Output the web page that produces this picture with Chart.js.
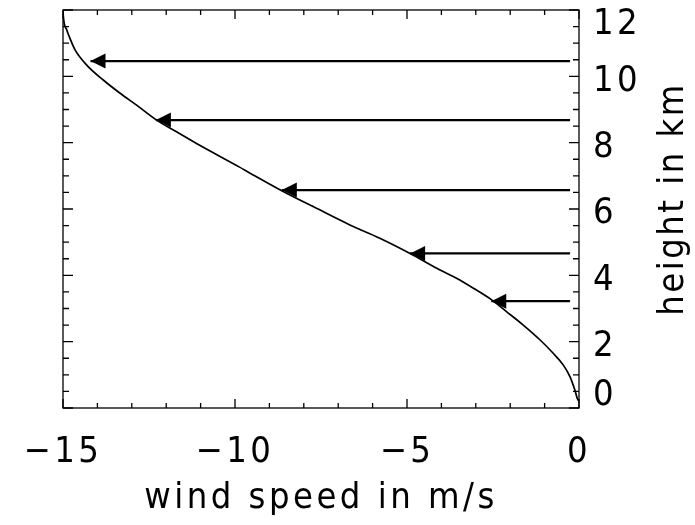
<!DOCTYPE html>
<html><head><meta charset="utf-8">
<script src="https://cdn.jsdelivr.net/npm/chart.js@4.4.1/dist/chart.umd.min.js"></script>
<style>html,body{margin:0;padding:0;background:#fff}canvas{display:block}</style>
</head><body>
<canvas id="c" width="695" height="525"></canvas>
<script>
// ---- data ----
const windSpeed = [-15, -14.99, -14.89, -14.78, -14.65, -14.31, -13.83, -13.34, -12.86, -12.28, -11.70, -11.04, -9.88, -9.56, -8.64, -7.63, -6.66, -5.79, -4.91, -4.04, -3.56, -3.07, -2.54, -2.10, -1.62, -1.13, -0.75, -0.46, -0.26, -0.12, -0.05, 0];
const heightKm  = [12, 11.8, 11.4, 11.1, 10.8, 10.34, 9.89, 9.49, 9.13, 8.68, 8.33, 7.93, 7.27, 7.08, 6.55, 6.02, 5.52, 5.12, 4.66, 4.16, 3.91, 3.61, 3.26, 2.90, 2.50, 2.05, 1.65, 1.30, 0.94, 0.54, 0.29, 0.2];
const arrowHeight   = [10.46, 8.68, 6.57, 4.66, 3.22];
const arrowTipSpeed = [-14.2, -12.3, -8.64, -4.91, -2.55];
const arrowTailSpeed = -0.26;
const xTickValues = [-15, -10, -5, 0];
const yTickValues = [0, 2, 4, 6, 8, 10, 12];
const xTitle = 'wind speed in m/s';
const yTitle = 'height in km';

const FONT = "'DejaVu Sans Condensed', 'Liberation Sans Narrow', 'Liberation Sans', sans-serif";
const FSIZE = 36;

const curve = windSpeed.map((x, i) => ({x, y: heightKm[i]}));
const arrowSets = arrowHeight.map((h, i) => ({
  type: 'line',
  data: [{x: arrowTailSpeed, y: h}, {x: arrowTipSpeed[i], y: h}],
  borderColor: '#000', borderWidth: 2.2, pointRadius: 0, tension: 0,
  isArrow: true
}));

const decor = {
  id: 'decor',
  beforeDraw(chart) {
    const ctx = chart.ctx;
    ctx.save();
    ctx.fillStyle = '#fff';
    ctx.fillRect(0, 0, chart.width, chart.height);
    ctx.restore();
    ctx.letterSpacing = '3.5px';
    const ys = chart.scales.y;
    const items = ys.getLabelItems();
    items.forEach((it, i) => {
      const v = ys.ticks[i].value;
      let off = 5;
      if (v === 12) off = 15;
      if (v === 0) off = -12;
      it.options.translation[1] = ys.getPixelForValue(v) + off;
    });
  },
  afterDraw(chart) {
    const ctx = chart.ctx;
    const a = chart.chartArea;
    const xs = chart.scales.x, ys = chart.scales.y;
    // arrow heads
    ctx.save();
    ctx.fillStyle = '#000';
    chart.data.datasets.forEach(ds => {
      if (!ds.isArrow) return;
      const tip = ds.data[1];
      const px = xs.getPixelForValue(tip.x), py = ys.getPixelForValue(tip.y);
      ctx.beginPath();
      ctx.moveTo(px, py);
      ctx.lineTo(px + 15, py - 7.5);
      ctx.lineTo(px + 15, py + 7.5);
      ctx.closePath();
      ctx.fill();
    });
    ctx.restore();
    // frame & inward ticks
    ctx.save();
    ctx.strokeStyle = '#000';
    ctx.lineWidth = 1.3;
    ctx.strokeRect(a.left, a.top, a.right - a.left, a.bottom - a.top);
    ctx.beginPath();
    for (let v = -15; v <= 0; v += 1) {
      const px = xs.getPixelForValue(v);
      const len = (v % 5 === 0) ? 9 : 5;
      ctx.moveTo(px, a.bottom); ctx.lineTo(px, a.bottom - len);
      ctx.moveTo(px, a.top); ctx.lineTo(px, a.top + len);
    }
    for (let k = 0; k <= 24; k++) {
      const v = k / 2;
      const py = ys.getPixelForValue(v);
      const len = (k % 4 === 0) ? 10 : 6;
      ctx.moveTo(a.left, py); ctx.lineTo(a.left + len, py);
      ctx.moveTo(a.right, py); ctx.lineTo(a.right - len, py);
    }
    ctx.stroke();
    ctx.restore();
    // right-hand axis title, reading bottom to top
    ctx.save();
    ctx.letterSpacing = '2.5px';
    ctx.fillStyle = '#000';
    ctx.font = FSIZE + 'px ' + FONT;
    ctx.textAlign = 'center';
    ctx.textBaseline = 'alphabetic';
    ctx.translate(a.right + 104, (a.top + a.bottom) / 2 - 10);
    ctx.rotate(-Math.PI / 2);
    ctx.fillText(yTitle, 0, 0);
    ctx.restore();
    ctx.letterSpacing = '0px';
  }
};

new Chart(document.getElementById('c'), {
  type: 'line',
  data: {
    datasets: [{
      data: curve, borderColor: '#000', borderWidth: 1.7, pointRadius: 0,
      tension: 0.3, cubicInterpolationMode: 'monotone'
    }].concat(arrowSets)
  },
  options: {
    responsive: false, animation: false, devicePixelRatio: 1,
    layout: {padding: {left: 63, top: 10, right: 0, bottom: 0}},
    plugins: {legend: {display: false}, tooltip: {enabled: false}},
    scales: {
      x: {
        type: 'linear', min: -15, max: 0,
        grid: {display: false, drawTicks: false},
        border: {display: false},
        afterBuildTicks: s => { s.ticks = xTickValues.map(v => ({value: v})); },
        afterFit: s => { s.height = 117; s.paddingLeft = 0; s.paddingRight = 0; },
        ticks: {
          color: '#000', padding: 23, maxRotation: 0, autoSkip: false,
          font: {family: FONT, size: FSIZE},
          callback: v => v < 0 ? '\u2212' + Math.abs(v) : String(v)
        },
        title: {display: true, text: xTitle, color: '#000',
          font: {family: FONT, size: FSIZE}, padding: {top: 0, bottom: 5}}
      },
      y: {
        type: 'linear', position: 'right', min: 0, max: 12,
        grid: {display: false, drawTicks: false},
        border: {display: false},
        afterBuildTicks: s => { s.ticks = yTickValues.map(v => ({value: v})); },
        afterFit: s => { s.width = 116; s.paddingTop = 0; s.paddingBottom = 0; },
        ticks: {
          color: '#000', padding: 14, autoSkip: false,
          font: {family: FONT, size: FSIZE}
        }
      }
    }
  },
  plugins: [decor]
});
</script>
</body></html>
